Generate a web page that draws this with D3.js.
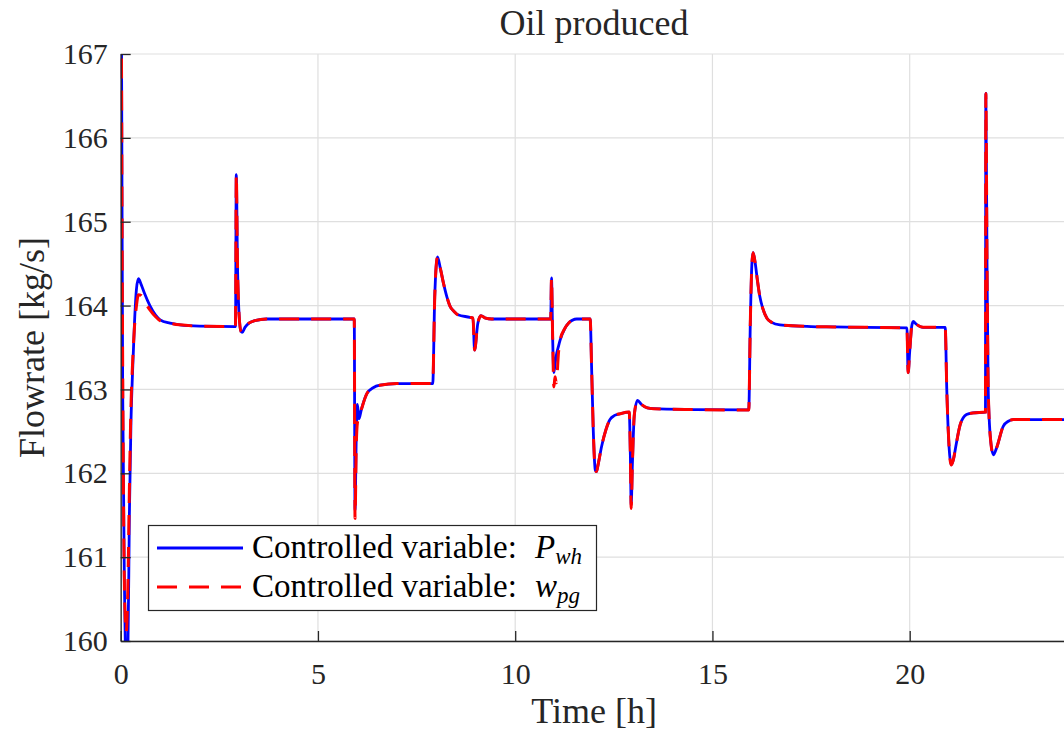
<!DOCTYPE html>
<html>
<head>
<meta charset="utf-8">
<script src="https://cdn.jsdelivr.net/npm/d3@7"></script>
<style>
  html, body { margin: 0; padding: 0; background: #ffffff; }
  svg { display: block; }
</style>
</head>
<body>
<svg id="chart" width="1064" height="734"></svg>
<script>
// Simulation time [h]
const time = [
  0.00, 0.05, 0.10, 0.14, 0.18, 0.22, 0.26, 0.30, 0.35, 0.40, 0.45, 0.52, 0.60, 0.74, 0.88, 1.00, 1.25, 1.50, 2.00,
  2.91, 2.93, 2.96, 3.00, 3.05, 3.08, 3.15, 3.25, 3.40, 3.70,
  5.92, 5.94, 5.97, 6.00, 6.04, 6.10, 6.24, 6.40, 6.57, 7.00,
  7.91, 7.96, 8.03, 8.10, 8.18, 8.27, 8.35, 8.45, 8.55, 8.85,
  8.93, 8.97, 9.05, 9.13, 9.25, 9.40,
  10.90, 10.92, 10.95, 10.98, 11.01, 11.04, 11.10, 11.14, 11.25, 11.35, 11.56,
  11.90, 11.94, 11.98, 12.03, 12.06, 12.10, 12.19, 12.30, 12.40, 12.52, 12.66, 12.89,
  12.92, 12.94, 12.97, 13.02, 13.10, 13.20, 13.35, 13.50, 14.50,
  15.92, 15.96, 16.00, 16.03, 16.08, 16.14, 16.20, 16.28, 16.38, 16.50, 16.71, 17.50, 18.06,
  19.93, 19.96, 20.00, 20.05, 20.09, 20.16, 20.34,
  20.90, 20.94, 21.00, 21.05, 21.10, 21.18, 21.28, 21.44, 21.60, 21.92,
  21.93, 21.96, 21.99, 22.05, 22.12, 22.20, 22.37, 22.50, 22.63, 23.00, 24.00
];

// Oil flowrate [kg/s], controlled variable P_wh
const oilPwh = [
  170.0, 163.0, 160.5, 159.6, 159.8, 161.5, 162.6, 163.2, 163.8, 164.2, 164.32, 164.25, 164.15, 164.00, 163.89, 163.83, 163.79, 163.77, 163.755,
  163.75, 165.56, 164.50, 163.90, 163.69, 163.68, 163.74, 163.79, 163.82, 163.84,
  163.84, 161.56, 162.40, 162.82, 162.65, 162.76, 162.95, 163.02, 163.05, 163.07,
  163.07, 164.10, 164.58, 164.45, 164.27, 164.10, 163.99, 163.93, 163.89, 163.86,
  163.85, 163.47, 163.78, 163.88, 163.85, 163.84,
  163.84, 164.33, 163.60, 163.20, 163.30, 163.40, 163.52, 163.59, 163.72, 163.79, 163.84,
  163.84, 163.20, 162.50, 162.04, 162.02, 162.10, 162.32, 162.52, 162.64, 162.69, 162.71, 162.73,
  162.20, 161.62, 162.10, 162.70, 162.87, 162.82, 162.78, 162.77, 162.76,
  162.755, 163.80, 164.50, 164.63, 164.52, 164.30, 164.11, 163.96, 163.85, 163.80, 163.77, 163.75, 163.745,
  163.735, 163.20, 163.45, 163.75, 163.81, 163.78, 163.74,
  163.74, 163.00, 162.30, 162.10, 162.15, 162.35, 162.58, 162.70, 162.72, 162.73,
  166.53, 164.50, 163.00, 162.40, 162.22, 162.30, 162.56, 162.62, 162.64, 162.64, 162.64
];

// Oil flowrate [kg/s], controlled variable w_pg
const oilWpg = [
  170.0, 163.3, 160.5, 160.1, 160.6, 161.8, 162.8, 163.3, 163.75, 164.0, 164.13, 164.12, 164.05, 163.95, 163.87, 163.82, 163.79, 163.77, 163.755,
  163.75, 165.56, 164.50, 163.90, 163.69, 163.68, 163.74, 163.79, 163.82, 163.84,
  163.84, 161.46, 162.30, 162.60, 162.67, 162.76, 162.95, 163.02, 163.05, 163.07,
  163.07, 164.10, 164.58, 164.45, 164.27, 164.10, 163.99, 163.93, 163.89, 163.86,
  163.85, 163.47, 163.78, 163.88, 163.85, 163.84,
  163.84, 164.33, 163.60, 163.03, 163.15, 163.08, 163.45, 163.59, 163.72, 163.79, 163.84,
  163.84, 163.20, 162.50, 162.04, 162.02, 162.10, 162.32, 162.52, 162.64, 162.69, 162.71, 162.73,
  162.20, 161.58, 162.10, 162.70, 162.87, 162.82, 162.78, 162.77, 162.76,
  162.755, 163.80, 164.50, 164.63, 164.52, 164.30, 164.11, 163.96, 163.85, 163.80, 163.77, 163.75, 163.745,
  163.735, 163.20, 163.45, 163.75, 163.81, 163.78, 163.74,
  163.74, 163.00, 162.30, 162.10, 162.15, 162.35, 162.58, 162.70, 162.72, 162.73,
  166.53, 164.50, 163.00, 162.40, 162.22, 162.30, 162.56, 162.62, 162.64, 162.64, 162.64
];

const xTicks = [0, 5, 10, 15, 20];
const yTicks = [160, 161, 162, 163, 164, 165, 166, 167];
const seriesNames = ["Controlled variable: ", "Controlled variable: "];
const seriesSymbols = [["P", "wh"], ["w", "pg"]];
const titleText = "Oil produced";
const xLabel = "Time [h]";
const yLabel = "Flowrate [kg/s]";

const FONT = '"Liberation Serif", "Times New Roman", serif';
const INK = "#262626";

const svg = d3.select("#chart");
const plotLeft = 120.7, plotRight = 1067.5, plotTop = 54, plotBottom = 641;

const x = d3.scaleLinear().domain([0, 24]).range([plotLeft, plotRight]);
const y = d3.scaleLinear().domain([160, 167]).range([plotBottom, plotTop]);

// grid
const grid = svg.append("g").attr("stroke", "#dfdfdf").attr("stroke-width", 1.2);
grid.selectAll("line.gx").data(xTicks).join("line")
  .attr("x1", d => x(d)).attr("x2", d => x(d))
  .attr("y1", plotTop).attr("y2", plotBottom);
grid.selectAll("line.gy").data(yTicks).join("line")
  .attr("x1", plotLeft).attr("x2", plotRight)
  .attr("y1", d => y(d)).attr("y2", d => y(d));

// clip to plotting area
svg.append("defs").append("clipPath").attr("id", "plotArea")
  .append("rect").attr("x", plotLeft).attr("y", plotTop)
  .attr("width", plotRight - plotLeft).attr("height", plotBottom - plotTop);

const pts = (vals) => time.map((t, i) => [t, vals[i]]);
const lineGen = d3.line().x(d => x(d[0])).y(d => y(d[1])).curve(d3.curveMonotoneX);

const plot = svg.append("g").attr("clip-path", "url(#plotArea)");
plot.append("path").datum(pts(oilPwh))
  .attr("d", lineGen).attr("fill", "none")
  .attr("stroke", "#0000ff").attr("stroke-width", 2.8)
  .attr("stroke-linejoin", "round");
plot.append("path").datum(pts(oilWpg))
  .attr("d", lineGen).attr("fill", "none")
  .attr("stroke", "#ff0000").attr("stroke-width", 3)
  .attr("stroke-dasharray", "20,12");

// axes (MATLAB-style inward ticks, left and bottom only)
const xAxis = d3.axisBottom(x).tickValues(xTicks).tickFormat(d3.format("d"))
  .tickSizeInner(-10).tickSizeOuter(0).tickPadding(22);
const yAxis = d3.axisLeft(y).tickValues(yTicks).tickFormat(d3.format("d"))
  .tickSizeInner(-10).tickSizeOuter(0).tickPadding(13);

const gx = svg.append("g").attr("transform", `translate(0,${plotBottom})`).call(xAxis);
const gy = svg.append("g").attr("transform", `translate(${plotLeft},0)`).call(yAxis);
[gx, gy].forEach(g => {
  g.attr("font-family", null).attr("font-size", null);
  g.select(".domain").attr("stroke", INK).attr("stroke-width", 1.3);
  g.selectAll(".tick line").attr("stroke", INK).attr("stroke-width", 1.3);
  g.selectAll(".tick text").style("font-family", FONT).style("font-size", "30px").attr("fill", INK);
});

// title and axis labels
const label = (sel) => sel.style("font-family", FONT).attr("fill", INK).attr("text-anchor", "middle");
svg.append("text").call(label).attr("x", (plotLeft + plotRight) / 2).attr("y", 35)
  .style("font-size", "36px").text(titleText);
svg.append("text").call(label).attr("x", (plotLeft + plotRight) / 2).attr("y", 723)
  .style("font-size", "36px").text(xLabel);
svg.append("text").call(label).attr("transform", `translate(44,${(plotTop + plotBottom) / 2}) rotate(-90)`)
  .style("font-size", "36px").text(yLabel);

// legend
const lg = svg.append("g");
lg.append("rect").attr("x", 148.5).attr("y", 525.5).attr("width", 448).attr("height", 85)
  .attr("fill", "#ffffff").attr("stroke", INK).attr("stroke-width", 1.2);
const rowsY = [548, 587];
const styles = [
  { color: "#0000ff", dash: null, width: 2.8 },
  { color: "#ff0000", dash: "20,12", width: 3 }
];
rowsY.forEach((ry, i) => {
  lg.append("line").attr("x1", 157).attr("x2", 243).attr("y1", ry).attr("y2", ry)
    .attr("stroke", styles[i].color).attr("stroke-width", styles[i].width)
    .attr("stroke-dasharray", styles[i].dash);
  const t = lg.append("text").attr("x", 252).attr("y", ry + 10)
    .style("font-family", FONT).style("font-size", "33px").attr("fill", "#000000");
  t.append("tspan").text(seriesNames[i]);
  t.append("tspan").style("font-style", "italic").attr("dx", 10).text(seriesSymbols[i][0]);
  t.append("tspan").style("font-style", "italic").style("font-size", "23px").attr("dy", 6).text(seriesSymbols[i][1]);
});
</script>
</body>
</html>
